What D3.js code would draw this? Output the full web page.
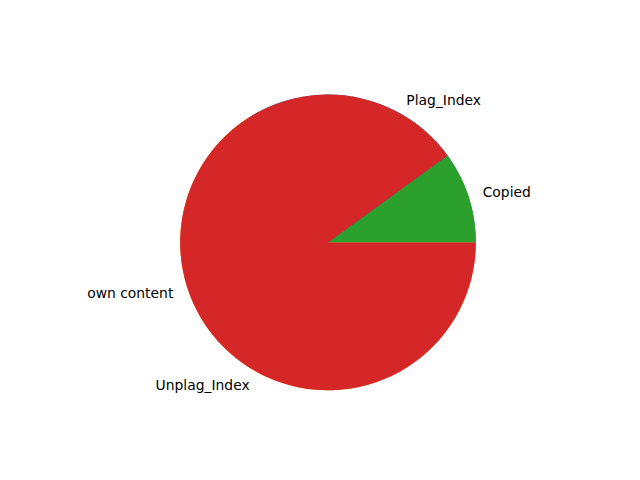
<!DOCTYPE html>
<html>
<head>
<meta charset="utf-8">
<script src="https://cdn.jsdelivr.net/npm/d3@7"></script>
<style>
html,body{margin:0;padding:0;background:#fff;}
svg{display:block;}
</style>
</head>
<body>
<svg id="chart" width="640" height="480"></svg>
<script>
// First pie (drawn underneath, fully covered by the second)
const labels1 = ["Plag_Index", "Unplag_Index"];
const values1 = [34, 66];
// Second pie (on top)
const labels2 = ["Copied", "own content"];
const values2 = [10, 90];

const palette = ["#1f77b4", "#ff7f0e", "#2ca02c", "#d62728"];

const W = 640, H = 480;
const axL = 0.125 * W, axR = 0.9 * W, axB = H - 0.11 * H, axT = H - 0.88 * H;
const unit = Math.min(axR - axL, axB - axT) / 2.5;
const cx = (axL + axR) / 2, cy = (axT + axB) / 2;
const R = unit;

const svg = d3.select("#chart");
const g = svg.append("g").attr("transform", `translate(${cx},${cy})`);

// matplotlib: start at 3 o'clock, counterclockwise
const pie = d3.pie().sort(null).value(d => d.v)
  .startAngle(Math.PI / 2).endAngle(Math.PI / 2 - 2 * Math.PI);
const arc = d3.arc().innerRadius(0).outerRadius(R);

function drawPie(labels, values, colorOffset) {
  const data = labels.map((l, i) => ({ label: l, v: values[i], c: palette[colorOffset + i] }));
  const arcs = pie(data);
  const grp = g.append("g");
  grp.selectAll("path").data(arcs).enter().append("path")
    .attr("d", arc).attr("fill", d => d.data.c);
  grp.selectAll("text").data(arcs).enter().append("text")
    .each(function (d) {
      const a = (d.startAngle + d.endAngle) / 2;
      const x = Math.sin(a) * R * 1.1, y = -Math.cos(a) * R * 1.1;
      d3.select(this)
        .attr("x", x).attr("y", y)
        .attr("text-anchor", x > 0 ? "start" : "end")
        .attr("dominant-baseline", "central")
        .attr("font-family", "DejaVu Sans")
        .attr("font-size", "13.89px")
        .attr("fill", "#000")
        .text(d.data.label);
    });
}

drawPie(labels1, values1, 0);
drawPie(labels2, values2, 2);
</script>
</body>
</html>
